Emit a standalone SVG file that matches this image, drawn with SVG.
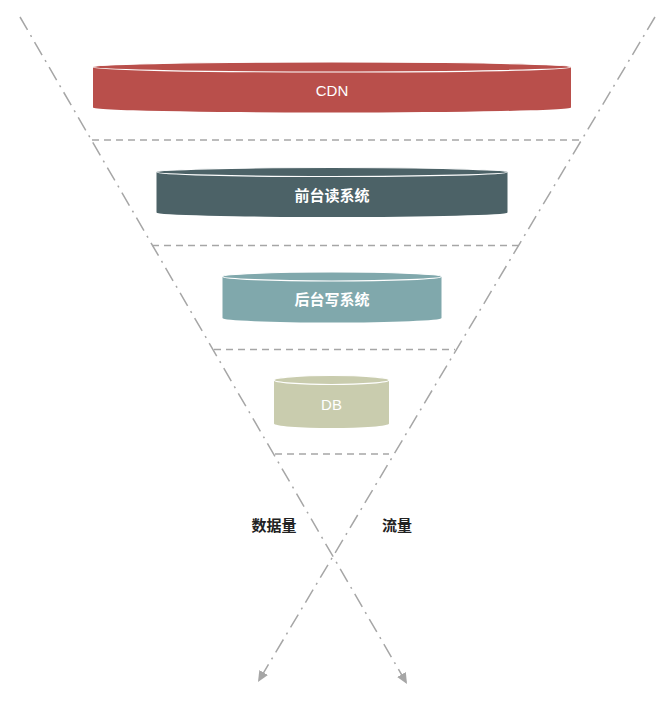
<svg xmlns="http://www.w3.org/2000/svg" width="671" height="708" viewBox="0 0 671 708">
<style>
.sep{fill:none;stroke:#A6A6A6;stroke-width:1.5;stroke-dasharray:7 5}
.axis{fill:none;stroke:#A6A6A6;stroke-width:1.5;stroke-dasharray:15 6 2 6}
.lid{stroke:#FFFFFF;stroke-width:1.2}
.lbl{font-family:"Liberation Sans","Noto Sans CJK SC",sans-serif;font-size:15px;fill:#FFFFFF;text-anchor:middle}
.cn{font-weight:bold}
.side{font-family:"Liberation Sans","Noto Sans CJK SC",sans-serif;font-size:15px;font-weight:bold;fill:#222222;text-anchor:middle}
</style>
<defs>
<marker id="arr" markerUnits="userSpaceOnUse" markerWidth="12" markerHeight="10" refX="11" refY="5" orient="auto">
<path d="M0,0 L11,5 L0,10 Z" fill="#A6A6A6"/>
</marker>
</defs>
<rect width="671" height="708" fill="#FFFFFF"/>
<g id="connectors">
<line class="sep" x1="92" y1="140" x2="581" y2="140"/>
<line class="sep" x1="152" y1="245.5" x2="518" y2="245.5"/>
<line class="sep" x1="214" y1="349.5" x2="455" y2="349.5"/>
<line class="sep" x1="275" y1="454" x2="389" y2="454"/>
<path class="axis" d="M20,17 L407,684" marker-end="url(#arr)"/>
<path class="axis" d="M655,17 L258,682" marker-end="url(#arr)"/>
</g>
<g id="cdn">
<path d="M93,67 V107.5 A239,5 0 0 0 571,107.5 V67 Z" fill="#B94F4B"/>
<ellipse class="lid" cx="332" cy="67" rx="239" ry="5" fill="#B94F4B"/>
<text class="lbl" x="332" y="96">CDN</text>
</g>
<g id="frontend-read">
<path d="M156.5,172 V212.5 A175.5,4.5 0 0 0 507.5,212.5 V172 Z" fill="#4C6267"/>
<ellipse class="lid" cx="332" cy="172" rx="175.5" ry="4.5" fill="#4C6267"/>
<text class="lbl cn" x="332" y="201">前台读系统</text>
</g>
<g id="backend-write">
<path d="M222.5,276.5 V318 A109.5,4.5 0 0 0 441.5,318 V276.5 Z" fill="#80A8AC"/>
<ellipse class="lid" cx="332" cy="276.5" rx="109.5" ry="4.5" fill="#80A8AC"/>
<text class="lbl cn" x="332" y="305">后台写系统</text>
</g>
<g id="db">
<path d="M274,380 V423.5 A57.5,4.5 0 0 0 389,423.5 V380 Z" fill="#C9CCAE"/>
<ellipse class="lid" cx="331.5" cy="380" rx="57.5" ry="4.5" fill="#C9CCAE"/>
<text class="lbl" x="331.5" y="410">DB</text>
</g>
<g id="label-data">
<text class="side" x="274" y="530.5">数据量</text>
</g>
<g id="label-traffic">
<text class="side" x="397" y="530.5">流量</text>
</g>
</svg>
